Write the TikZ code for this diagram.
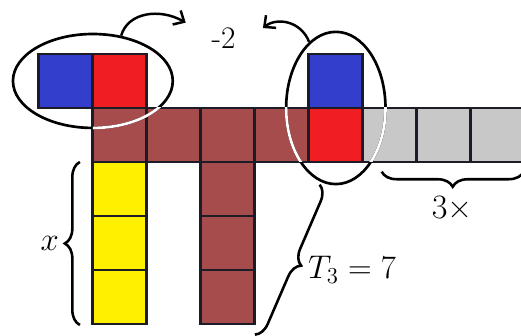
\documentclass[tikz,border=0pt]{standalone}
\usepackage{tikz}
\usetikzlibrary{arrows.meta,shapes.geometric,decorations.pathreplacing}

\definecolor{tblue}{RGB}{52,62,205}
\definecolor{tred}{RGB}{240,30,35}
\definecolor{tbrown}{RGB}{166,76,76}
\definecolor{tgrey}{RGB}{200,200,200}
\definecolor{tyellow}{RGB}{255,240,0}
\definecolor{gridline}{RGB}{28,28,38}

\begin{document}
\begin{tikzpicture}[
    tile/.style={line width=1.5pt, draw=gridline},
    ring/.style={ellipse, draw, line width=1.4pt, inner sep=0pt},
    brc/.style={decorate, decoration={brace, amplitude=0.28cm}, line width=1.35pt},
    lbl/.style={font=\fontsize{17}{20}\selectfont},
    swing/.style={line width=1.3pt, -{Straight Barb[length=1.6mm,width=3mm]}}
]
\useasboundingbox (-0.72,-0.22) rectangle (8.93,6.0);

            % 上方移走的两块
            \filldraw[tile, fill=tblue] (0,4) rectangle (1,5);
            \filldraw[tile, fill=tred] (1,4) rectangle (2,5);

            % 横排（棕色、红色、灰色）
            \filldraw[tile, fill=tbrown] (1,3) rectangle (2,4);
            \filldraw[tile, fill=tbrown] (2,3) rectangle (3,4);
            \filldraw[tile, fill=tbrown] (3,3) rectangle (4,4);
            \filldraw[tile, fill=tbrown] (4,3) rectangle (5,4);
            \filldraw[tile, fill=tred] (5,3) rectangle (6,4);
            \filldraw[tile, fill=tgrey] (6,3) rectangle (7,4);
            \filldraw[tile, fill=tgrey] (7,3) rectangle (8,4);
            \filldraw[tile, fill=tgrey] (8,3) rectangle (9,4);

            % 右边上面的蓝块
            \filldraw[tile, fill=tblue] (5,4) rectangle (6,5);

            % 黄色竖列
            \filldraw[tile, fill=tyellow] (1,0) rectangle (2,1);
            \filldraw[tile, fill=tyellow] (1,1) rectangle (2,2);
            \filldraw[tile, fill=tyellow] (1,2) rectangle (2,3);

            % 棕色竖列
            \filldraw[tile, fill=tbrown] (3,0) rectangle (4,1);
            \filldraw[tile, fill=tbrown] (3,1) rectangle (4,2);
            \filldraw[tile, fill=tbrown] (3,2) rectangle (4,3);

            % 两个椭圆
            \node[ring, minimum width=2.96cm, minimum height=1.74cm] (leftring) at (1,4.5) {};
            \node[ring, minimum width=1.84cm, minimum height=2.82cm] (rightring) at (5.5,4) {};

            % 椭圆压在方块上的部分是白色
            \begin{scope}
                \clip (1,3) rectangle (9.5,4);
                \node[ring, draw=white, minimum width=2.96cm, minimum height=1.74cm] at (1,4.5) {};
                \node[ring, draw=white, minimum width=1.84cm, minimum height=2.82cm] at (5.5,4) {};
            \end{scope}

            % -2 和箭头
            \node[lbl, font=\fontsize{16.5}{20}\selectfont] (minus) at (3.42,5.30) {-2};
            \coordinate (lefttip) at (2.72,5.58);
            \coordinate (righttip) at (4.15,5.48);
            \draw[swing] (leftring.58) .. controls (1.65,5.78) and (2.25,5.85) .. (lefttip);
            \draw[swing] (rightring.112) .. controls (4.85,5.62) and (4.4,5.68) .. (righttip);

            % 括号
            \draw[brc] (0.76,-0.02) -- (0.76,3.0);
            \draw[brc] (8.98,2.82) -- (6.35,2.82);
            \draw[brc] (5.2,2.58) -- (4.0,-0.2);

            % 标签
            \node[lbl, font=\fontsize{18}{21}\selectfont] (xlab) at (0.2,1.5) {$x$};
            \node[lbl, font=\fontsize{18}{21}\selectfont] (times) at (7.65,2.15) {3×};
            \node[lbl, anchor=west, inner sep=0pt] (tlab) at (4.98,1.0) {$T_3 = 7$};

\end{tikzpicture}
\end{document}
